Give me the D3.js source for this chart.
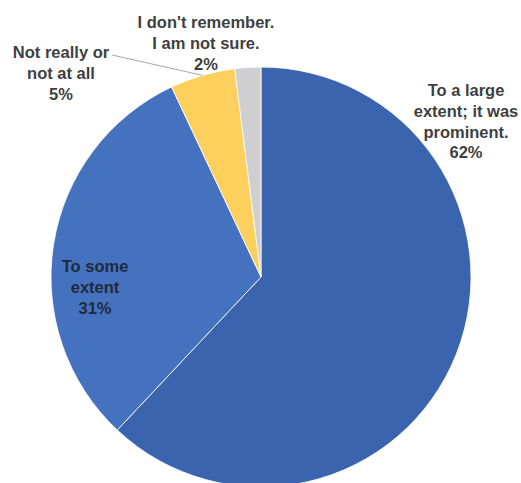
<!DOCTYPE html>
<html>
<head>
<meta charset="utf-8">
<script src="https://cdn.jsdelivr.net/npm/d3@7"></script>
<style>
  html, body { margin: 0; padding: 0; background: #ffffff; }
  svg { display: block; }
  text { font-family: "Liberation Sans", Arial, sans-serif; }
</style>
</head>
<body>
<svg id="chart" width="521" height="483"></svg>
<script>
// Survey responses, in clockwise order from 12 o'clock
const categories = [
  "To a large extent; it was prominent.",
  "To some extent",
  "Not really or not at all",
  "I don't remember. I am not sure."
];
const values = [62, 31, 5, 2];
const colors = ["#3A64AE", "#4572BE", "#FDCF5C", "#CFCFD1"];
// label text broken into lines
const labelLines = [
  ["To a large", "extent; it was", "prominent.", "62%"],
  ["To some", "extent", "31%"],
  ["Not really or", "not at all", "5%"],
  ["I don't remember.", "I am not sure.", "2%"]
];

const W = 521, H = 483;
const cx = 261, cy = 277, R = 210;

const svg = d3.select("#chart");
const g = svg.append("g").attr("transform", `translate(${cx},${cy})`);

const data = categories.map((c, i) => ({ category: c, value: values[i], color: colors[i], lines: labelLines[i] }));

const pie = d3.pie().value(d => d.value).sort(null);
const arcs = pie(data);
const arc = d3.arc().innerRadius(0).outerRadius(R);

g.selectAll("path.slice")
  .data(arcs)
  .join("path")
  .attr("class", "slice")
  .attr("d", arc)
  .attr("fill", d => d.data.color)
  .attr("stroke", "#ffffff")
  .attr("stroke-width", 0.8);

// label placement: offset from centre, in pixels (x of text centre, first baseline)
const labelPos = [
  { x: 205, y: -181, color: "#3f3f3f" },
  { x: -166, y: -5, color: "#1f2a3f" },
  { x: -200, y: -219, color: "#3f3f3f" },
  { x: -55, y: -249, color: "#3f3f3f" }
];
const lineH = 20.8;

// leader line for the small yellow slice
const yellow = arcs[2];
const mid = (yellow.startAngle + yellow.endAngle) / 2;
const edge = [Math.sin(mid) * R, -Math.cos(mid) * R];
g.append("line")
  .attr("x1", -149).attr("y1", -222)
  .attr("x2", edge[0]).attr("y2", edge[1])
  .attr("stroke", "#a6a6a6")
  .attr("stroke-width", 1);

const labels = g.selectAll("text.lbl")
  .data(arcs)
  .join("text")
  .attr("class", "lbl")
  .attr("text-anchor", "middle")
  .attr("font-size", 16.5)
  .attr("font-weight", "bold")
  .attr("fill", (d, i) => labelPos[i].color)
  .attr("transform", (d, i) => `translate(${labelPos[i].x},${labelPos[i].y})`);

labels.selectAll("tspan")
  .data(d => d.data.lines)
  .join("tspan")
  .attr("x", 0)
  .attr("y", (d, i) => i * lineH)
  .text(d => d);
</script>
</body>
</html>
